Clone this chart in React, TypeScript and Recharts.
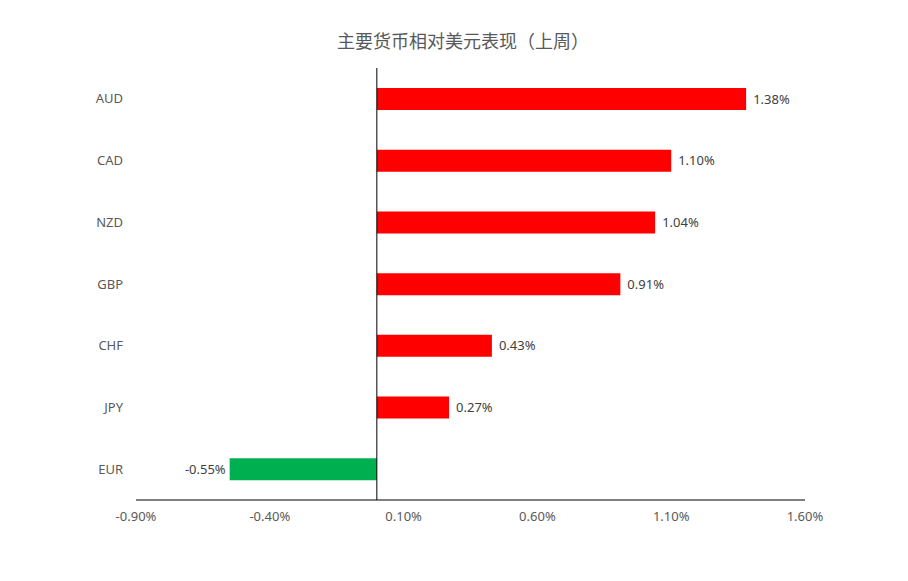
import React from "react";
import {
  Bar,
  BarChart,
  Cell,
  LabelList,
  ReferenceLine,
  XAxis,
  YAxis,
} from "recharts";

const currencies = ["AUD", "CAD", "NZD", "GBP", "CHF", "JPY", "EUR"];
const weeklyChange = [1.38, 1.1, 1.04, 0.91, 0.43, 0.27, -0.55];
const xTicks = [-0.9, -0.4, 0.1, 0.6, 1.1, 1.6];

const data = currencies.map((name, i) => ({ name, value: weeklyChange[i] }));

const pct = (v: number) => `${v.toFixed(2)}%`;
const font = "'Noto Sans', 'Noto Sans CJK SC', sans-serif";

function ValueLabel(props: any) {
  const { x, y, width, height, value } = props;
  const neg = value < 0;
  const tx = neg ? x + width - 4 : x + width + 7;
  return (
    <text
      x={tx}
      y={y + height / 2}
      dy="0.35em"
      textAnchor={neg ? "end" : "start"}
      fill="#404040"
      fontSize={13}
      fontFamily={font}
    >
      {pct(value)}
    </text>
  );
}

export default function App() {
  return (
    <div
      style={{
        position: "absolute",
        left: 0,
        top: 0,
        width: 908,
        height: 581,
        background: "#fff",
        fontFamily: font,
      }}
    >
      <div
        style={{
          position: "absolute",
          top: 27,
          left: 0,
          width: 926,
          textAlign: "center",
          fontSize: 18,
          color: "#595959",
          fontFamily: "'Noto Sans CJK SC', sans-serif",
        }}
      >
        主要货币相对美元表现（上周）
      </div>
      <BarChart
        width={908}
        height={581}
        data={data}
        layout="vertical"
        margin={{ top: 68, right: 103, bottom: 0, left: 76 }}
      >
        <XAxis
          type="number"
          domain={[-0.9, 1.6]}
          ticks={xTicks}
          tickFormatter={pct}
          tickLine={false}
          tickMargin={6}
          height={81}
          axisLine={{ stroke: "#000", strokeWidth: 1 }}
          tick={{ fill: "#595959", fontSize: 13, fontFamily: font }}
          interval={0}
        />
        <YAxis
          type="category"
          dataKey="name"
          width={60}
          axisLine={false}
          tickLine={false}
          tickMargin={7}
          tick={{ fill: "#595959", fontSize: 13, fontFamily: font }}
        />
        <ReferenceLine x={0} stroke="#000" strokeWidth={1} />
        <Bar dataKey="value" isAnimationActive={false} barSize={22}>
          {data.map((d) => (
            <Cell key={d.name} fill={d.value < 0 ? "#00B050" : "#FF0000"} />
          ))}
          <LabelList dataKey="value" content={<ValueLabel />} />
        </Bar>
      </BarChart>
    </div>
  );
}
